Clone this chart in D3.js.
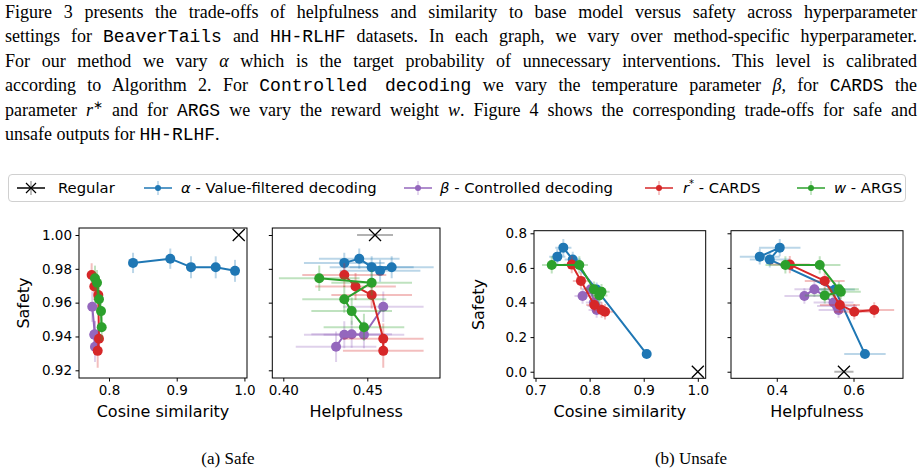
<!DOCTYPE html>
<html>
<head>
<meta charset="utf-8">
<script src="https://cdn.jsdelivr.net/npm/d3@7"></script>
<style>
  body { margin: 0; background: #fff; }
  #wrap { position: relative; width: 922px; height: 472px; overflow: hidden; }
  #para { position: absolute; left: 5px; top: 0px; width: 912px;
          font-family: "Liberation Serif", "Times New Roman", serif; font-size: 18px;
          line-height: 24.4px; color: #000; }
  #para div { text-align: justify; text-align-last: justify; height: 24.4px; }
  #para div.last { text-align-last: left; }
  #para sup { font-size: 12px; line-height: 0; vertical-align: baseline; position: relative; top: -7px; }
  .tt { font-family: "Liberation Mono", "Courier New", monospace; }
  .m { font-style: italic; }
  svg { position: absolute; left: 0; top: 0; }
  svg text { font-family: "DejaVu Sans", sans-serif; }
</style>
</head>
<body>
<div id="wrap"></div>
<script>
// ---- text ----
const paragraphLines = [
  'Figure 3 presents the trade-offs of helpfulness and similarity to base model versus safety across hyperparameter',
  'settings for <span class="tt">BeaverTails</span> and <span class="tt">HH-RLHF</span> datasets. In each graph, we vary over method-specific hyperparameter.',
  'For our method we vary <span class="m">α</span> which is the target probability of unnecessary interventions. This level is calibrated',
  'according to Algorithm 2. For <span class="tt">Controlled decoding</span> we vary the temperature parameter <span class="m">β</span>, for <span class="tt">CARDS</span> the',
  'parameter <span class="m">r</span><sup>∗</sup> and for <span class="tt">ARGS</span> we vary the reward weight <span class="m">w</span>. Figure 4 shows the corresponding trade-offs for safe and',
  'unsafe outputs for <span class="tt">HH-RLHF</span>.'
];
const captions = ['(a) Safe', '(b) Unsafe'];

// ---- series ----
const seriesKeys = ['alpha', 'beta', 'rstar', 'w'];
const seriesColors = ['#1f77b4', '#9467bd', '#d62728', '#2ca02c'];
const legendNames = ['Regular', ['α', ' - Value-filtered decoding'], ['β', ' - Controlled decoding'], ['r', ' - CARDS'], ['w', ' - ARGS']];

// (a) Safe
const safeSafety = {
  alpha: [0.9835, 0.986, 0.981, 0.9809, 0.9788],
  beta:  [0.9339, 0.9410, 0.9413, 0.9410, 0.9576],
  rstar: [0.9763, 0.9696, 0.9645, 0.9387, 0.9315],
  w:     [0.9744, 0.9718, 0.9620, 0.9550, 0.9455]
};
const safeSafetyErr = {
  alpha: [0.006, 0.006, 0.0065, 0.0065, 0.0065],
  beta:  [0.009, 0.008, 0.008, 0.008, 0.009],
  rstar: [0.007, 0.008, 0.008, 0.009, 0.010],
  w:     [0.0075, 0.0075, 0.008, 0.008, 0.008]
};
const safeCos = {
  alpha: [0.8355, 0.8905, 0.9211, 0.9576, 0.9861],
  beta:  [0.7793, 0.7783, 0.7788, 0.7792, 0.7753],
  rstar: [0.7744, 0.7783, 0.7842, 0.7852, 0.7833],
  w:     [0.7793, 0.7823, 0.7852, 0.7882, 0.7892]
};
const safeCosErr = {
  alpha: [0.0015, 0.0015, 0.0015, 0.0015, 0.0015],
  beta:  [0.0015, 0.0015, 0.0015, 0.0015, 0.0015],
  rstar: [0.0015, 0.0015, 0.0015, 0.0015, 0.0015],
  w:     [0.0015, 0.0015, 0.0015, 0.0015, 0.0015]
};
const safeHelp = {
  alpha: [0.4363, 0.4452, 0.4526, 0.4645, 0.4576],
  beta:  [0.4314, 0.4363, 0.4407, 0.4480, 0.4595],
  rstar: [0.4363, 0.4430, 0.4526, 0.4595, 0.4595],
  w:     [0.4214, 0.4526, 0.4363, 0.4407, 0.4480]
};
const safeHelpErr = {
  alpha: [0.024, 0.024, 0.025, 0.025, 0.024],
  beta:  [0.024, 0.024, 0.024, 0.024, 0.024],
  rstar: [0.025, 0.024, 0.024, 0.024, 0.024],
  w:     [0.024, 0.024, 0.025, 0.024, 0.024]
};
const safeRegular = { cos: 0.9916, help: 0.4546, helpErr: 0.0107, safety: 1.0 };

// (b) Unsafe
const unsafeSafety = {
  alpha: [0.665, 0.717, 0.648, 0.475, 0.102],
  beta:  [0.438, 0.477, 0.400, 0.380, 0.357],
  rstar: [0.619, 0.525, 0.386, 0.347, 0.357],
  w:     [0.617, 0.617, 0.476, 0.462, 0.440]
};
const unsafeSafetyErr = {
  alpha: [0.045, 0.05, 0.045, 0.04, 0.02],
  beta:  [0.045, 0.045, 0.045, 0.045, 0.045],
  rstar: [0.05, 0.05, 0.045, 0.045, 0.045],
  w:     [0.05, 0.05, 0.045, 0.045, 0.045]
};
const unsafeCos = {
  alpha: [0.7403, 0.7514, 0.7688, 0.8130, 0.9055],
  beta:  [0.787, 0.802, 0.808, 0.811, 0.813],
  rstar: [0.767, 0.784, 0.8087, 0.8285, 0.8223],
  w:     [0.730, 0.781, 0.808, 0.822, 0.818]
};
const unsafeCosErr = {
  alpha: [0.015, 0.015, 0.015, 0.015, 0.006],
  beta:  [0.015, 0.015, 0.015, 0.015, 0.015],
  rstar: [0.015, 0.015, 0.015, 0.015, 0.015],
  w:     [0.018, 0.016, 0.015, 0.015, 0.015]
};
const unsafeHelp = {
  alpha: [0.3556, 0.4078, 0.3817, 0.5514, 0.6298],
  beta:  [0.472, 0.498, 0.548, 0.557, 0.561],
  rstar: [0.434, 0.525, 0.5645, 0.602, 0.654],
  w:     [0.4225, 0.512, 0.562, 0.567, 0.525]
};
const unsafeHelpErr = {
  alpha: [0.052, 0.054, 0.052, 0.052, 0.054],
  beta:  [0.052, 0.052, 0.052, 0.052, 0.052],
  rstar: [0.052, 0.052, 0.052, 0.052, 0.052],
  w:     [0.052, 0.054, 0.052, 0.052, 0.052]
};
const unsafeRegular = { cos: 1.0, help: 0.575, helpErr: 0.025, safety: 0.0 };

// tick labels
const safeYTicks = [0.92, 0.94, 0.96, 0.98, 1.00];
const safeCosTicks = [0.8, 0.9, 1.0];
const safeHelpTicks = [0.40, 0.45];
const unsafeYTicks = [0.0, 0.2, 0.4, 0.6, 0.8];
const unsafeCosTicks = [0.7, 0.8, 0.9, 1.0];
const unsafeHelpTicks = [0.4, 0.6];

// ---- page ----
const wrap = d3.select('#wrap');
const para = wrap.append('div').attr('id', 'para');
paragraphLines.forEach((l, i) => {
  para.append('div').attr('class', i === paragraphLines.length - 1 ? 'last' : null).html(l);
});

const svg = wrap.append('svg').attr('width', 922).attr('height', 472);

/* Legend */
const legend = svg.append('g');
legend.append('rect')
  .attr('x', 8.5).attr('y', 174.5).attr('width', 897).attr('height', 27).attr('rx', 3.5)
  .attr('fill', '#fff').attr('stroke', '#d0d0d0').attr('stroke-width', 1);

const legendHandleX = [31, 158, 418, 659, 811];
const legendTextX = [58, 181, 440, 683, 834];
const ly = 188;
legendNames.forEach((name, i) => {
  const hx = legendHandleX[i];
  const c = i === 0 ? '#000' : seriesColors[i - 1];
  legend.append('line').attr('x1', hx - 14).attr('x2', hx + 14).attr('y1', ly).attr('y2', ly)
    .attr('stroke', c).attr('stroke-width', 1.5);
  legend.append('line').attr('x1', hx).attr('x2', hx).attr('y1', ly - 7).attr('y2', ly + 7)
    .attr('stroke', c).attr('stroke-opacity', 0.35).attr('stroke-width', 1.5);
  if (i === 0) {
    legend.append('path').attr('d', `M${hx - 5},${ly - 5}L${hx + 5},${ly + 5}M${hx - 5},${ly + 5}L${hx + 5},${ly - 5}`)
      .attr('stroke', '#000').attr('stroke-width', 1.2);
  } else {
    legend.append('circle').attr('cx', hx).attr('cy', ly).attr('r', 3).attr('fill', c);
  }
  const t = legend.append('text').attr('x', legendTextX[i]).attr('y', ly + 5).attr('font-size', 14.8).attr('fill', '#000');
  if (typeof name === 'string') {
    t.text(name);
  } else {
    t.append('tspan').attr('font-style', 'italic').text(name[0]);
    if (name[0] === 'r') t.append('tspan').attr('dy', -6).attr('font-size', 10).text('*');
    t.append('tspan').attr('dy', name[0] === 'r' ? 6 : 0).text(name[1]);
  }
});

/* Panels */
const panels = [
  { left: 79, right: 247, top: 228, bottom: 378, xDomain: [0.7557, 1.0038], yDomain: [0.91545, 1.00414],
    xs: safeCos, xe: safeCosErr, ys: safeSafety, ye: safeSafetyErr, xTicks: safeCosTicks, xFmt: '.1f',
    yTicks: safeYTicks, yFmt: '.2f', yLabels: true, xLabel: 'Cosine similarity',
    reg: [safeRegular.cos, safeRegular.safety, 0] },
  { left: 272.3, right: 440, top: 228, bottom: 378, xDomain: [0.39345, 0.49327], yDomain: [0.91545, 1.00414],
    xs: safeHelp, xe: safeHelpErr, ys: safeSafety, ye: safeSafetyErr, xTicks: safeHelpTicks, xFmt: '.2f',
    yTicks: safeYTicks, yFmt: '.2f', yLabels: false, xLabel: 'Helpfulness',
    reg: [safeRegular.help, safeRegular.safety, safeRegular.helpErr] },
  { left: 534, right: 705.7, top: 230.7, bottom: 378.3, xDomain: [0.6972, 1.0146], yDomain: [-0.038, 0.815],
    xs: unsafeCos, xe: unsafeCosErr, ys: unsafeSafety, ye: unsafeSafetyErr, xTicks: unsafeCosTicks, xFmt: '.1f',
    yTicks: unsafeYTicks, yFmt: '.1f', yLabels: true, xLabel: 'Cosine similarity',
    reg: [unsafeRegular.cos, unsafeRegular.safety, 0] },
  { left: 731, right: 903, top: 230.7, bottom: 378.3, xDomain: [0.2807, 0.729], yDomain: [-0.038, 0.815],
    xs: unsafeHelp, xe: unsafeHelpErr, ys: unsafeSafety, ye: unsafeSafetyErr, xTicks: unsafeHelpTicks, xFmt: '.1f',
    yTicks: unsafeYTicks, yFmt: '.1f', yLabels: false, xLabel: 'Helpfulness',
    reg: [unsafeRegular.help, unsafeRegular.safety, unsafeRegular.helpErr] }
];

panels.forEach((p, pi) => {
  const x = d3.scaleLinear().domain(p.xDomain).range([p.left, p.right]);
  const y = d3.scaleLinear().domain(p.yDomain).range([p.bottom, p.top]);
  const g = svg.append('g');

  svg.append('clipPath').attr('id', 'clip' + pi).append('rect')
    .attr('x', p.left).attr('y', p.top).attr('width', p.right - p.left).attr('height', p.bottom - p.top);
  const plot = g.append('g').attr('clip-path', `url(#clip${pi})`);

  // regular model
  const [rx, ry, rxe] = p.reg;
  if (rxe > 0) {
    plot.append('line').attr('x1', x(rx - rxe)).attr('x2', x(rx + rxe)).attr('y1', y(ry)).attr('y2', y(ry))
      .attr('stroke', '#000').attr('stroke-opacity', 0.3).attr('stroke-width', 2);
  }
  plot.append('path')
    .attr('d', `M${x(rx) - 6},${y(ry) - 6}L${x(rx) + 6},${y(ry) + 6}M${x(rx) - 6},${y(ry) + 6}L${x(rx) + 6},${y(ry) - 6}`)
    .attr('stroke', '#000').attr('stroke-width', 1.3).attr('fill', 'none');

  seriesKeys.forEach((k, i) => {
    const c = seriesColors[i];
    const pts = p.xs[k].map((v, j) => ({ x: v, y: p.ys[k][j], xe: p.xe[k][j], ye: p.ye[k][j] }));
    const s = plot.append('g');
    s.selectAll('.hbar').data(pts).enter().append('line')
      .attr('x1', (d) => x(d.x - d.xe)).attr('x2', (d) => x(d.x + d.xe))
      .attr('y1', (d) => y(d.y)).attr('y2', (d) => y(d.y))
      .attr('stroke', c).attr('stroke-opacity', 0.3).attr('stroke-width', 2);
    s.selectAll('.vbar').data(pts).enter().append('line')
      .attr('x1', (d) => x(d.x)).attr('x2', (d) => x(d.x))
      .attr('y1', (d) => y(d.y - d.ye)).attr('y2', (d) => y(d.y + d.ye))
      .attr('stroke', c).attr('stroke-opacity', 0.3).attr('stroke-width', 2);
    s.append('path')
      .attr('d', d3.line().x((d) => x(d.x)).y((d) => y(d.y))(pts))
      .attr('fill', 'none').attr('stroke', c).attr('stroke-width', 2).attr('stroke-linejoin', 'round');
    s.selectAll('circle').data(pts).enter().append('circle')
      .attr('cx', (d) => x(d.x)).attr('cy', (d) => y(d.y)).attr('r', 5).attr('fill', c);
  });

  // box
  g.append('rect').attr('x', p.left).attr('y', p.top)
    .attr('width', p.right - p.left).attr('height', p.bottom - p.top)
    .attr('fill', 'none').attr('stroke', '#000').attr('stroke-width', 1);

  // axes
  const xAxis = d3.axisBottom(x).tickValues(p.xTicks).tickFormat(d3.format(p.xFmt)).tickSize(3.5).tickPadding(3.5);
  const yAxis = d3.axisLeft(y).tickValues(p.yTicks).tickFormat(p.yLabels ? d3.format(p.yFmt) : '').tickSize(3.5).tickPadding(3.5);
  const xg = g.append('g').attr('transform', `translate(0,${p.bottom})`).call(xAxis);
  const yg = g.append('g').attr('transform', `translate(${p.left},0)`).call(yAxis);
  [xg, yg].forEach((a) => {
    a.select('.domain').remove();
    a.selectAll('text').attr('font-size', 13.5).attr('fill', '#000').attr('font-family', 'DejaVu Sans');
    a.selectAll('line').attr('stroke', '#000');
  });

  g.append('text').attr('x', (p.left + p.right) / 2).attr('y', 417)
    .attr('text-anchor', 'middle').attr('font-size', 16).attr('fill', '#000').text(p.xLabel);
  if (p.yLabels) {
    const cx = p.left - 50;
    const cy = (p.top + p.bottom) / 2;
    g.append('text').attr('transform', `translate(${cx},${cy}) rotate(-90)`)
      .attr('text-anchor', 'middle').attr('font-size', 16).attr('fill', '#000').text('Safety');
  }
});

/* Captions */
svg.selectAll('.cap').data(captions).enter().append('text')
  .attr('x', (d, i) => (i === 0 ? 228 : 691)).attr('y', 464)
  .attr('text-anchor', 'middle').attr('font-size', 17)
  .style('font-family', '"Liberation Serif", "Times New Roman", serif')
  .text((d) => d);
</script>
</body>
</html>
